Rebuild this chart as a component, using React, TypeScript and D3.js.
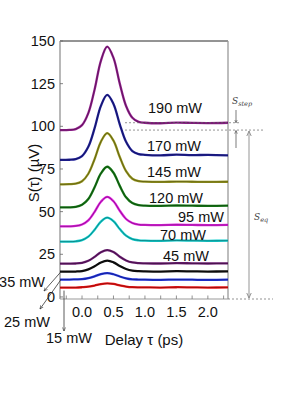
import * as d3 from "d3";

// delay axis (ps) shared by every trace
const delays = [-0.35, -0.2, -0.1, 0, 0.1, 0.2, 0.3, 0.4, 0.5, 0.6, 0.7, 0.8, 0.9, 1.0, 1.25, 1.5, 1.75, 2.0, 2.32];

// S(tau) in uV
const s190 = [97.8, 97.9, 98.4, 100.7, 107.7, 121.6, 138.4, 146.7, 140.1, 125.0, 111.9, 105.0, 102.6, 102.1, 101.8, 102.2, 102.0, 101.9, 102.1];
const s170 = [80.3, 80.4, 80.8, 82.6, 88.0, 98.9, 112.0, 118.4, 113.1, 101.2, 90.9, 85.5, 83.7, 83.3, 83.0, 83.4, 83.1, 83.3, 83.0];
const s145 = [66.0, 66.1, 66.4, 67.8, 72.2, 80.8, 91.0, 96.0, 91.6, 82.0, 73.7, 69.3, 67.9, 67.6, 67.4, 67.6, 67.5, 67.4, 67.5];
const s120 = [52.5, 52.5, 52.8, 54.0, 57.4, 64.3, 72.4, 76.3, 72.8, 65.1, 58.4, 55.0, 53.8, 53.5, 53.4, 53.6, 53.5, 53.4, 53.5];
const s95 = [41.4, 41.4, 41.6, 42.5, 44.9, 49.9, 55.8, 58.6, 56.1, 50.5, 45.7, 43.3, 42.4, 42.2, 42.1, 42.3, 42.2, 42.1, 42.2];
const s70 = [32.4, 32.4, 32.6, 33.3, 35.3, 39.4, 44.2, 46.5, 44.4, 39.8, 35.9, 33.9, 33.2, 33.0, 32.9, 33.1, 33.0, 32.9, 33.0];
const s45 = [19.5, 19.5, 19.6, 20.0, 21.2, 23.5, 26.2, 27.5, 26.3, 23.6, 21.4, 20.2, 19.8, 19.7, 19.6, 19.8, 19.7, 19.6, 19.7];
const s35 = [14.8, 14.8, 14.9, 15.2, 16.2, 18.0, 20.2, 21.3, 20.3, 18.2, 16.4, 15.4, 15.1, 15.0, 14.9, 15.1, 15.0, 14.9, 15.0];
const s25 = [10.2, 10.2, 10.3, 10.4, 11.0, 12.1, 13.4, 14.0, 13.3, 12.0, 10.9, 10.3, 10.2, 10.1, 10.0, 10.2, 10.1, 10.0, 10.1];
const s15 = [5.5, 5.5, 5.5, 5.7, 6.0, 6.7, 7.5, 7.9, 7.6, 6.8, 6.1, 5.7, 5.6, 5.6, 5.5, 5.7, 5.6, 5.5, 5.6];

const series = [s190, s170, s145, s120, s95, s70, s45, s35, s25, s15];
const powers = ["190 mW", "170 mW", "145 mW", "120 mW", "95 mW", "70 mW", "45 mW", "35 mW", "25 mW", "15 mW"];
const colors = ["#94208f", "#20209a", "#96961e", "#167a16", "#e01fe0", "#12cccc", "#6c1c72", "#111111", "#2234e0", "#ee1515"];

const yTicks = [0, 25, 50, 75, 100, 125, 150];
const xTicks = [0, 0.5, 1.0, 1.5, 2.0];
const xMinor = [-0.25, 0, 0.25, 0.5, 0.75, 1.0, 1.25, 1.5, 1.75, 2.0, 2.25];

// label placement for the right-hand power labels (x start, baseline)
const labelPos: Record<string, [number, number]> = {
  "190 mW": [148, 113],
  "170 mW": [147, 151],
  "145 mW": [147, 177],
  "120 mW": [149, 203],
  "95 mW": [178, 222],
  "70 mW": [160, 240],
  "45 mW": [163, 261],
};

const W = 300;
const H = 400;
const font = "Liberation Sans, Arial, sans-serif";

export default function App() {
  const left = 60, right = 228, top = 41, bottom = 299;
  const x = d3.scaleLinear().domain([-0.35, 2.32]).range([left, right]);
  const y = d3.scaleLinear().domain([-1.2, 150]).range([bottom, top]);

  const line = d3
    .line<number>()
    .x((_, i) => x(delays[i]))
    .y((d) => y(d))
    .curve(d3.curveCatmullRom.alpha(0.5));

  const axisGray = "#9a9a9a";
  const lo190 = y(s190[0]);
  const hi190 = y(s190[s190.length - 1]);

  return (
    <svg
      width={W}
      height={H}
      style={{ position: "absolute", left: 0, top: 0, background: "#fff" }}
    >
      <defs>
        <marker id="ah" viewBox="0 0 10 10" refX="9" refY="5" markerWidth="5" markerHeight="5" orient="auto-start-reverse">
          <path d="M0,1 L9,5 L0,9" fill="none" stroke="#333" strokeWidth="1.4" />
        </marker>
        <marker id="ahg" viewBox="0 0 10 10" refX="9" refY="5" markerWidth="4" markerHeight="4" orient="auto-start-reverse">
          <path d="M0,1 L9,5 L0,9" fill="none" stroke="#888" strokeWidth="1.6" />
        </marker>
      </defs>

      {/* frame */}
      <line x1={left} x2={right} y1={top} y2={top} stroke="#111" strokeWidth={0.9} />
      <line x1={right} x2={right} y1={top} y2={bottom} stroke={axisGray} strokeWidth={1.3} />
      <line x1={left} x2={right} y1={bottom} y2={bottom} stroke={axisGray} strokeWidth={1.2} />
      <line x1={left} x2={left} y1={top} y2={bottom} stroke={axisGray} strokeWidth={1.4} />

      {/* y ticks */}
      {yTicks.map((t) => (
        <g key={t}>
          <line x1={left} x2={left + 3} y1={y(t)} y2={y(t)} stroke="#666" strokeWidth={0.8} />
          <text x={55} y={y(t) + 5} textAnchor="end" fontFamily={font} fontSize={14.5} fill="#111">
            {t}
          </text>
        </g>
      ))}

      {/* x ticks */}
      {xMinor.map((t) => (
        <line key={t} x1={x(t)} x2={x(t)} y1={bottom} y2={bottom - 3.5} stroke="#777" strokeWidth={0.8} />
      ))}
      {xTicks.map((t) => (
        <text key={t} x={x(t)} y={317} textAnchor="middle" fontFamily={font} fontSize={14.5} fill="#111">
          {d3.format(".1f")(t)}
        </text>
      ))}

      {/* traces */}
      {series.map((s, i) => (
        <g key={powers[i]}>
          <path d={line(s) ?? ""} fill="none" stroke={colors[i]} strokeWidth={2.3} strokeLinejoin="round" />
          <path d={line(s) ?? ""} fill="none" stroke="#000" strokeOpacity={0.55} strokeWidth={0.6} />
        </g>
      ))}

      {/* power labels */}
      {Object.entries(labelPos).map(([p, [lx, ly]]) => (
        <text key={p} x={lx} y={ly} fontFamily={font} fontSize={14.5} fill="#111">
          {p}
        </text>
      ))}
      <text x={45} y={287} textAnchor="end" fontFamily={font} fontSize={14.5} fill="#111">35 mW</text>
      <text x={4} y={327} fontFamily={font} fontSize={14.5} fill="#111">25 mW</text>
      <text x={46} y={343} fontFamily={font} fontSize={14.5} fill="#111">15 mW</text>

      {/* pointers from the low-power traces to their labels */}
      <line x1={x(-0.35) + 1} y1={y(s35[0])} x2={44} y2={291} stroke="#333" strokeWidth={0.8} markerEnd="url(#ah)" />
      <line x1={x(-0.35) + 1} y1={y(s25[0])} x2={40} y2={309} stroke="#333" strokeWidth={0.8} markerEnd="url(#ah)" />
      <line x1={64} y1={y(s15[0]) + 3} x2={64} y2={331} stroke="#333" strokeWidth={0.8} markerEnd="url(#ah)" />

      {/* S_step / S_eq annotation */}
      <line x1={125} x2={240} y1={hi190} y2={hi190} stroke="#666" strokeWidth={0.7} strokeDasharray="2,2" />
      <line x1={125} x2={263} y1={lo190} y2={lo190} stroke="#666" strokeWidth={0.7} strokeDasharray="2,2" />
      <line x1={right} x2={273} y1={bottom} y2={bottom} stroke="#666" strokeWidth={0.7} strokeDasharray="2,2" />
      <line x1={236} x2={236} y1={110} y2={hi190} stroke="#444" strokeWidth={0.7} markerEnd="url(#ah)" />
      <line x1={236} x2={236} y1={148} y2={lo190 + 0.5} stroke="#444" strokeWidth={0.7} markerEnd="url(#ah)" />
      <line x1={249} x2={249} y1={lo190 + 1} y2={bottom - 1} stroke="#b4b4b4" strokeWidth={1.4} markerStart="url(#ahg)" markerEnd="url(#ahg)" />
      <text x={232} y={104} fontFamily="DejaVu Serif, serif" fontStyle="italic" fontSize={9} fill="#444">
        S<tspan fontSize={6.5} dy={2}>step</tspan>
      </text>
      <text x={254} y={220} fontFamily="DejaVu Serif, serif" fontStyle="italic" fontSize={9} fill="#444">
        S<tspan fontSize={6.5} dy={2}>eq</tspan>
      </text>

      {/* axis titles */}
      <text
        transform={`translate(39,173) rotate(-90)`}
        textAnchor="middle"
        fontFamily={font}
        fontSize={15}
        fill="#111"
      >
        S(τ) (µV)
      </text>
      <text x={144} y={345} textAnchor="middle" fontFamily={font} fontSize={15} fill="#111">
        Delay τ (ps)
      </text>
    </svg>
  );
}
